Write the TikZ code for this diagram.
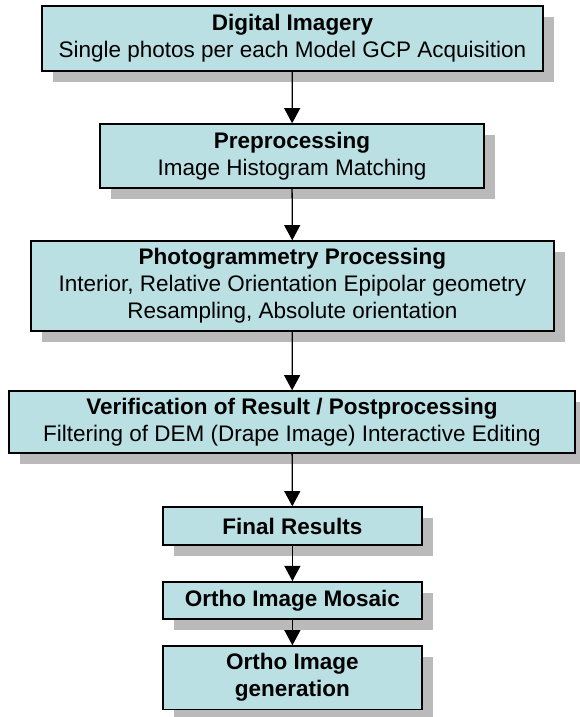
\documentclass[tikz,border=0pt]{standalone}
\usepackage{fontspec}
\setmainfont{Liberation Sans}
\usepackage{tikz}
\usetikzlibrary{arrows.meta,shadows}
\definecolor{boxfill}{RGB}{187,224,227}

\begin{document}
\begin{tikzpicture}[
    stage/.style={draw=black, line width=1pt, fill=boxfill, align=center, inner sep=0pt,
      font=\fontsize{16}{19.2}\selectfont,
      drop shadow={shadow xshift=0.275cm, shadow yshift=-0.275cm, fill=black!27, opacity=1}},
    flow/.style={line width=0.9pt, -{Triangle[width=0.4cm,length=0.38cm]}}]
    \useasboundingbox (0,0) rectangle (14.5,-17.925);

    \node[stage, minimum width=12.53cm, minimum height=1.63cm] (digital) at (7.31,-0.96)
      {\textbf{Digital Imagery}\\Single photos per each Model GCP Acquisition};
    \node[stage, minimum width=9.6cm, minimum height=1.6cm] (preproc) at (7.30,-3.90)
      {\textbf{Preprocessing}\\Image Histogram Matching};
    \node[stage, minimum width=13.08cm, minimum height=2.25cm] (photo) at (7.31,-7.15)
      {\textbf{Photogrammetry Processing}\\Interior, Relative Orientation Epipolar geometry\\Resampling, Absolute orientation};
    \node[stage, minimum width=14.15cm, minimum height=1.55cm] (verif) at (7.30,-10.55)
      {\textbf{Verification of Result / Postprocessing}\\Filtering of DEM (Drape Image) Interactive Editing};
    \node[stage, minimum width=6.48cm, minimum height=0.95cm] (final) at (7.31,-13.15)
      {\textbf{Final Results}};
    \node[stage, minimum width=6.48cm, minimum height=0.93cm] (mosaic) at (7.31,-15.01)
      {\textbf{Ortho Image Mosaic}};
    \node[stage, minimum width=6.48cm, minimum height=1.58cm] (ortho) at (7.31,-16.94)
      {\textbf{Ortho Image}\\\textbf{generation}};

    \draw[flow] (digital) -- (preproc);
    \draw[flow] (preproc) -- (photo);
    \draw[flow] (photo) -- (verif);
    \draw[flow] (verif) -- (final);
    \draw[flow] (final) -- (mosaic);
    \draw[flow] (mosaic) -- (ortho);
\end{tikzpicture}
\end{document}
